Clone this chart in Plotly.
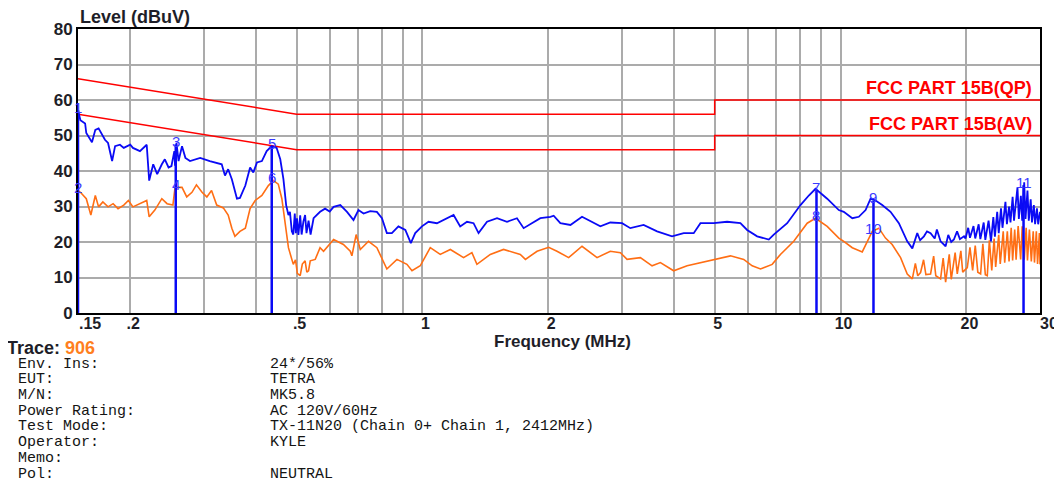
import math
import plotly.graph_objects as go

# ---- data (MHz / dBuV) ----
qp_freq = [
    0.150, 0.152, 0.156, 0.157, 0.162, 0.165, 0.168, 0.171, 0.174, 0.177,
    0.181, 0.184, 0.189, 0.193, 0.200, 0.203, 0.211, 0.219, 0.222, 0.227,
    0.232, 0.238, 0.242, 0.247, 0.251, 0.255, 0.256, 0.258, 0.261, 0.266,
    0.271, 0.278, 0.294, 0.310, 0.322, 0.331, 0.337, 0.343, 0.350, 0.360,
    0.366, 0.377, 0.387, 0.394, 0.402, 0.413, 0.424, 0.436, 0.448, 0.457,
    0.465, 0.472, 0.478, 0.482, 0.487, 0.491, 0.495, 0.498, 0.501, 0.505,
    0.510, 0.514, 0.519, 0.524, 0.528, 0.534, 0.540, 0.549, 0.569, 0.585,
    0.600, 0.613, 0.636, 0.660, 0.684, 0.703, 0.723, 0.750, 0.778, 0.800,
    0.822, 0.845, 0.876, 0.910, 0.938, 0.961, 0.997, 1.034, 1.083, 1.144,
    1.187, 1.231, 1.278, 1.325, 1.362, 1.427, 1.508, 1.593, 1.683, 1.746,
    1.829, 1.914, 2.023, 2.060, 2.137, 2.259, 2.408, 2.568, 2.664, 2.814,
    3.002, 3.142, 3.381, 3.641, 3.954, 4.216, 4.455, 4.623, 4.974, 5.355,
    5.761, 5.979, 6.318, 6.735, 6.923, 7.454, 8.020, 8.397, 8.712, 9.291,
    9.906, 10.18, 10.67, 11.06, 11.48, 11.80, 12.13, 12.58, 13.17, 13.79,
    14.44, 14.85, 15.26, 15.50, 15.83, 16.10, 16.42, 16.80, 17.00, 17.35,
    17.84, 18.10, 18.40, 18.67, 19.00, 19.30, 19.74, 19.90, 20.20, 20.40,
    20.80, 21.00, 21.40, 21.60, 22.00, 22.20, 22.60, 22.90, 23.20, 23.40,
    23.70, 23.90, 24.20, 24.40, 24.80, 25.00, 25.30, 25.50, 25.80, 26.00,
    26.20, 26.50, 26.70, 27.00, 27.20, 27.50, 27.70, 28.00, 28.20, 28.50,
    28.70, 29.00, 29.20, 29.50, 29.70, 30.00,
]
qp_level = [
    57.1, 54.3, 53.4, 50.7, 48.1, 51.6, 52.0, 50.2, 48.8, 47.9,
    42.8, 47.0, 47.4, 46.5, 47.4, 46.5, 45.6, 47.4, 37.3, 41.9,
    39.1, 41.9, 43.3, 41.0, 41.4, 45.6, 41.5, 47.9, 42.8, 47.0,
    43.7, 42.8, 43.7, 42.8, 42.4, 41.9, 38.7, 40.5, 37.7, 32.2,
    32.4, 35.9, 41.0, 39.6, 42.4, 42.8, 45.6, 47.0, 46.5, 43.3,
    37.7, 30.4, 27.6, 28.5, 23.0, 22.1, 28.0, 22.5, 26.7, 22.0,
    27.5, 22.1, 25.7, 27.6, 22.5, 26.0, 22.1, 26.7, 28.5, 29.4,
    28.6, 29.9, 30.4, 28.5, 26.2, 29.0, 28.0, 28.7, 28.5, 26.7,
    22.5, 22.5, 24.4, 23.4, 19.7, 22.5, 24.4, 25.7, 25.3, 26.7,
    27.6, 24.4, 25.7, 25.3, 22.5, 25.7, 26.7, 25.7, 26.7, 23.9,
    25.3, 26.7, 27.1, 27.4, 25.3, 24.8, 27.1, 25.3, 24.4, 25.5,
    25.3, 23.9, 24.8, 23.0, 21.6, 22.5, 22.5, 25.3, 25.3, 25.7,
    25.3, 23.4, 21.6, 20.7, 22.1, 25.3, 30.4, 33.1, 35.0, 32.2,
    29.0, 28.5, 26.7, 27.1, 29.0, 32.2, 31.7, 30.4, 28.5, 25.3,
    20.2, 18.2, 22.5, 20.5, 21.6, 23.0, 22.5, 21.0, 23.5, 20.2,
    18.8, 22.0, 20.0, 20.7, 23.0, 20.8, 21.6, 21.0, 24.0, 21.2,
    24.5, 21.0, 25.0, 20.8, 25.5, 20.6, 26.0, 20.2, 27.0, 21.5,
    28.5, 22.5, 29.5, 24.0, 31.3, 25.0, 30.0, 25.5, 32.7, 26.0,
    30.5, 35.4, 26.5, 33.0, 26.0, 36.8, 26.5, 34.5, 26.0, 32.0,
    25.5, 30.4, 25.0, 29.5, 25.0, 28.5,
]

av_freq = [
    0.150, 0.152, 0.157, 0.161, 0.165, 0.168, 0.172, 0.177, 0.182, 0.187,
    0.193, 0.198, 0.203, 0.211, 0.219, 0.222, 0.229, 0.238, 0.245, 0.253,
    0.256, 0.266, 0.273, 0.281, 0.288, 0.297, 0.305, 0.313, 0.322, 0.334,
    0.343, 0.350, 0.356, 0.366, 0.377, 0.387, 0.398, 0.413, 0.428, 0.440,
    0.452, 0.461, 0.469, 0.478, 0.491, 0.497, 0.502, 0.510, 0.516, 0.524,
    0.529, 0.534, 0.539, 0.554, 0.569, 0.580, 0.613, 0.647, 0.672, 0.678,
    0.694, 0.710, 0.743, 0.778, 0.822, 0.869, 0.918, 0.944, 0.988, 1.044,
    1.103, 1.166, 1.254, 1.313, 1.350, 1.453, 1.563, 1.714, 1.763, 1.880,
    2.004, 2.098, 2.237, 2.408, 2.616, 2.814, 2.975, 3.086, 3.321, 3.542,
    3.708, 3.989, 4.296, 4.623, 4.974, 5.454, 5.868, 6.147, 6.435, 6.863,
    7.182, 7.730, 8.323, 8.712, 9.291, 9.906, 10.18, 10.67, 11.27, 11.58,
    11.91, 12.35, 12.81, 13.29, 13.92, 14.44, 14.85, 15.10, 15.30, 15.54,
    15.80, 16.00, 16.42, 16.70, 16.90, 17.35, 17.60, 17.84, 18.20, 18.40,
    18.80, 19.02, 19.40, 19.60, 20.10, 20.40, 20.70, 21.00, 21.30, 21.63,
    21.90, 22.20, 22.44, 22.70, 23.00, 23.30, 23.50, 23.90, 24.10, 24.50,
    24.70, 25.06, 25.30, 25.60, 25.80, 26.10, 26.30, 26.60, 26.97, 27.20,
    27.50, 27.80, 28.00, 28.30, 28.60, 28.90, 29.10, 29.40, 29.60, 29.90,
    30.00,
]
av_level = [
    34.5, 34.0, 32.2, 27.6, 33.1, 29.9, 31.3, 29.9, 30.8, 29.4,
    30.4, 31.7, 29.9, 30.8, 31.7, 27.1, 29.0, 32.2, 30.8, 30.4,
    35.4, 35.4, 32.7, 34.0, 36.1, 34.0, 32.7, 34.5, 30.4, 29.6,
    27.6, 23.9, 21.6, 23.0, 23.9, 29.4, 31.7, 33.1, 35.9, 37.3,
    36.3, 32.2, 24.8, 18.4, 13.7, 15.0, 11.2, 10.5, 13.8, 14.7,
    11.5, 11.9, 14.7, 15.1, 18.4, 17.4, 20.7, 19.3, 17.4, 16.1,
    22.1, 17.9, 20.2, 18.4, 12.4, 15.1, 13.7, 11.9, 13.3, 18.4,
    16.5, 17.9, 15.6, 17.0, 13.7, 16.5, 17.9, 16.5, 15.1, 17.4,
    18.5, 17.4, 15.6, 18.8, 15.6, 17.4, 17.0, 15.1, 15.6, 13.3,
    14.2, 11.9, 13.3, 14.2, 15.1, 16.1, 15.1, 13.3, 12.4, 13.7,
    16.5, 20.2, 25.3, 26.7, 24.4, 21.1, 20.2, 18.4, 17.2, 20.2,
    23.0, 23.9, 21.1, 19.3, 15.6, 11.0, 9.6, 14.0, 10.5, 11.4,
    15.0, 10.8, 11.0, 16.0, 10.5, 9.6, 15.5, 8.7, 16.5, 9.5,
    17.0, 11.0, 17.5, 11.5, 12.8, 18.5, 12.0, 19.0, 11.5, 11.0,
    19.5, 10.8, 10.5, 20.5, 12.0, 21.0, 13.0, 22.0, 13.8, 23.0,
    14.2, 23.0, 14.5, 24.0, 14.8, 23.5, 15.0, 24.5, 15.1, 24.4,
    15.0, 24.0, 14.8, 23.5, 14.5, 23.0, 14.2, 23.0, 13.8, 22.5,
    13.7,
]

limit_freq = [0.15, 0.5, 5, 5, 30]
qp_limit = [66, 56, 56, 60, 60]
av_limit = [56, 46, 46, 50, 50]

marker_id = [1, 2, 3, 4, 5, 6, 7, 8, 9, 10, 11]
marker_freq = [0.150, 0.150, 0.257, 0.257, 0.436, 0.436, 8.76, 8.76, 11.99, 11.99, 27.4]
marker_level = [57.1, 34.5, 47.5, 35.4, 47.0, 37.3, 34.5, 26.7, 31.7, 23.0, 36.0]

x_ticks = [0.15, 0.2, 0.5, 1, 2, 5, 10, 20, 30]
x_tick_text = [".15", ".2", ".5", "1", "2", "5", "10", "20", "30"]
x_minor_grid = [0.3, 0.4, 0.6, 0.7, 0.8, 0.9, 3, 4, 6, 7, 8, 9]

info_labels = ["Env. Ins:", "EUT:", "M/N:", "Power Rating:", "Test Mode:",
               "Operator:", "Memo:", "Pol:"]
info_values = ["24*/56%", "TETRA", "MK5.8", "AC 120V/60Hz",
               "TX-11N20 (Chain 0+ Chain 1, 2412MHz)", "KYLE", "", "NEUTRAL"]

# ---- style ----
PAGE = 8  # default body margin of the html page
W, H = 1062 - PAGE, 486 - PAGE
L, T, R = 78 - PAGE, 24 - PAGE, 22
B = H - T - 289
BLUE = "#0a0af5"
ORANGE = "#ff6e14"
RED = "#ff0000"
GRID = "#ababab"
SANS = "Liberation Sans, Arial, sans-serif"
MONO = "Courier New, Liberation Mono, monospace"
DARK = "#1e1e28"
TICK_FONT = dict(family=SANS, size=16, color=DARK, weight="bold")


def py(ypx):
    # screen pixel row -> paper y
    return (313 - ypx) / 289


def px(xpx):
    return (xpx - 78) / 962


fig = go.Figure()

for lim in (qp_limit, av_limit):
    fig.add_trace(go.Scatter(x=limit_freq, y=lim, mode="lines",
                             line=dict(color=RED, width=1.5), hoverinfo="skip"))

fig.add_trace(go.Scatter(x=av_freq, y=av_level, mode="lines",
                         line=dict(color=ORANGE, width=1.6), name="AV"))
fig.add_trace(go.Scatter(x=qp_freq, y=qp_level, mode="lines",
                         line=dict(color=BLUE, width=1.8), name="QP"))

# vertical marker lines (peak markers)
mx, my = [], []
for mid, f, lv in zip(marker_id, marker_freq, marker_level):
    if mid % 2 == 1:
        mx += [f, f, None]
        my += [0, lv, None]
fig.add_trace(go.Scatter(x=mx, y=my, mode="lines",
                         line=dict(color=BLUE, width=2.5), hoverinfo="skip"))

for mid, f, lv in zip(marker_id, marker_freq, marker_level):
    fig.add_annotation(x=math.log10(f), y=lv, text=str(mid), showarrow=False,
                       yanchor="middle", yshift=3,
                       font=dict(family=SANS, size=15, color="#3a3aff"))

# limit labels
for lim, name in ((qp_limit, "FCC PART 15B(QP)"), (av_limit, "FCC PART 15B(AV)")):
    fig.add_annotation(xref="paper", x=px(1034), y=lim[-1], xanchor="right",
                       yanchor="bottom", showarrow=False, text=name,
                       font=dict(family=SANS, size=18, color=RED, weight="bold"))

# end tick labels sit just inside the ends of the axis
fig.add_annotation(xref="paper", yref="paper", x=px(77), y=py(324), xanchor="left",
                   yanchor="middle", showarrow=False, text=x_tick_text[0], font=TICK_FONT)
fig.add_annotation(xref="paper", yref="paper", x=px(1060), y=py(324), xanchor="right",
                   yanchor="middle", showarrow=False, text=x_tick_text[-1], font=TICK_FONT)
axis_text = [""] + x_tick_text[1:-1] + [""]

# axis titles
fig.add_annotation(xref="paper", yref="paper", x=0, y=1, xanchor="left",
                   yanchor="bottom", showarrow=False, text="Level (dBuV)",
                   font=dict(family=SANS, size=18, color=DARK, weight="bold"))
fig.add_annotation(xref="paper", yref="paper", x=px(562), y=py(342), xanchor="center",
                   yanchor="middle", showarrow=False, text="Frequency (MHz)",
                   font=dict(family=SANS, size=17, color=DARK, weight="bold"))

# info block
fig.add_annotation(xref="paper", yref="paper", x=px(5), y=py(349), xanchor="left",
                   yanchor="middle", showarrow=False,
                   text="Trace: <span style='color:#ff7f1e'>906</span>",
                   font=dict(family=SANS, size=18, color=DARK, weight="bold"))
for i, (lab, val) in enumerate(zip(info_labels, info_values)):
    yy = py(365 + 16 * i)
    fig.add_annotation(xref="paper", yref="paper", x=px(16), y=yy, xanchor="left",
                       yanchor="middle", showarrow=False, text=lab,
                       font=dict(family=MONO, size=15, color="#141414"))
    if val:
        fig.add_annotation(xref="paper", yref="paper", x=px(268), y=yy,
                           xanchor="left", yanchor="middle", showarrow=False,
                           text=val, font=dict(family=MONO, size=15, color="#141414"))

fig.update_xaxes(
    type="log", range=[math.log10(0.15), math.log10(30)],
    tickvals=x_ticks, ticktext=axis_text, ticks="",
    ticklabelstandoff=-5, ticklabelshift=3, tickfont=TICK_FONT,
    showgrid=True, gridcolor=GRID, gridwidth=2,
    minor=dict(tickvals=x_minor_grid, showgrid=True, gridcolor=GRID, gridwidth=2, ticks=""),
    showline=True, linecolor="black", linewidth=2, mirror=True, zeroline=False,
)
fig.update_yaxes(
    range=[0, 80], dtick=10, ticks="", tickfont=dict(TICK_FONT, size=17),
    showgrid=True, gridcolor=GRID, gridwidth=2,
    showline=True, linecolor="black", linewidth=2, mirror=True, zeroline=False,
)
fig.update_layout(
    width=W, height=H, showlegend=False,
    margin=dict(l=L, r=R, t=T, b=B),
    paper_bgcolor="white", plot_bgcolor="white",
)

fig.write_html("out.html")
